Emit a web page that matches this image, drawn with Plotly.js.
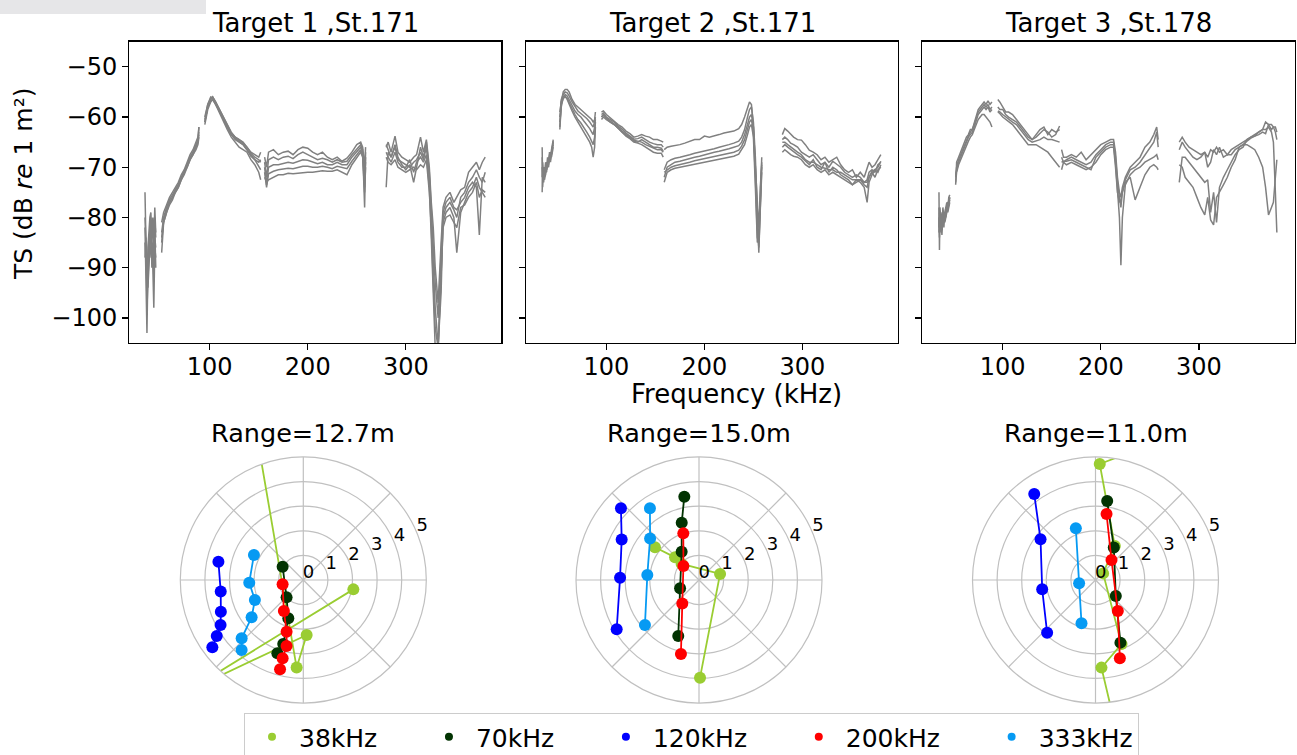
<!DOCTYPE html>
<html><head><meta charset="utf-8">
<script src="https://cdn.plot.ly/plotly-3.0.1.min.js"></script>
<style>html,body{margin:0;padding:0;background:#fff}#chart{width:1297px;height:755px}</style>
</head><body><div id="chart"></div>
<script>
// ---------- Top row: TS spectra (kHz, dB) ----------
const T1_F38 = [34,35,36,37,38,39,40,41,42,43,44,45];
const T1_S38 = [
 [-75,-88,-95,-86,-82,-80,-79,-84,-80,-85,-78,-83],
 [-82,-92,-103,-90,-86,-84,-83,-88,-85,-90,-82,-90],
 [-85,-90,-92,-94,-88,-86,-82,-86,-90,-98,-86,-88],
 [-80,-86,-90,-88,-84,-88,-86,-82,-84,-92,-80,-84],
 [-88,-84,-98,-92,-90,-82,-80,-90,-86,-88,-84,-86]];
const T1_F70 = [51,53,56,59,62,65,68,71,74,77,80,83,86,88,89];
const T1_S70 = [
 [-87,-81,-79,-77,-76,-75,-74,-72.5,-71.5,-70,-68.5,-67.5,-66,-65,-62],
 [-83,-80,-78,-76.5,-75.5,-74.5,-73.5,-72,-71,-69.5,-68,-67,-65.5,-64.5,-63],
 [-81,-79,-77.5,-76,-75,-74,-73,-71.5,-70.5,-69,-67.5,-66.5,-65,-64,-62],
 [-85,-80.5,-78.5,-77,-76,-74.5,-73.5,-72,-70.8,-69.5,-68.2,-67,-65.8,-65,-63.5],
 [-84,-81,-79,-77.5,-76.5,-75,-74,-72.5,-71,-70,-68.5,-67.5,-66.5,-65.5,-64]];
const T1_F120 = [95,98,101,103,106,110,114,118,122,126,130,134,138,142,146,150,152];
const T1_S120 = [
 [-61,-58,-56.5,-56,-57,-58.5,-60,-61.5,-63,-64,-64.5,-65,-66,-67,-67.5,-68,-67],
 [-60.5,-57.5,-56,-56.2,-57.2,-59,-60.5,-62,-63.5,-64.5,-65,-65.5,-66.5,-67.5,-68.5,-69,-68.5],
 [-61.5,-58.5,-57,-56.5,-57.5,-59.2,-61,-62.5,-64,-65,-66,-66.5,-67,-68.5,-69.5,-71,-72.5],
 [-61,-58,-56.8,-56.5,-57.5,-58.8,-60.5,-62,-63.5,-64.2,-64.8,-65.5,-66.5,-67.8,-68.5,-70,-70.5],
 [-60,-57.5,-56.3,-56,-57,-58.5,-60.2,-61.8,-63.2,-64,-64.5,-65.2,-66,-67.2,-68,-68.5,-69]];
const T1_F200 = [156,158,160,165,170,175,180,185,190,195,200,205,210,215,220,225,230,235,240,245,250,254,256,258,259];
const T1_S200 = [
 [-68,-70,-67,-66.5,-67.5,-67,-66.8,-67.5,-66.5,-66,-66.2,-67,-67.5,-67,-68,-68.5,-68,-68.8,-68.2,-67,-65.5,-65,-66,-70,-66],
 [-69,-72,-68.5,-68,-68.5,-68,-67.8,-68.3,-67.5,-67,-67.5,-68,-68.5,-68.2,-68.5,-69,-68.5,-69,-68.8,-67.5,-66.5,-65.5,-66.5,-78,-68],
 [-70,-73.5,-70,-69.5,-69.5,-69.2,-69,-69.2,-68.8,-68.5,-68.6,-69,-69.3,-69,-69.5,-69.5,-69,-69.5,-69.5,-68,-67,-66,-67,-74,-67],
 [-71,-74,-71.3,-70.8,-70.5,-70.3,-70.2,-70.3,-70,-69.8,-69.8,-70,-70,-69.8,-70,-70.3,-69.8,-70,-70.3,-68.8,-67.5,-66.5,-67.5,-72,-69],
 [-72,-73,-72.5,-72,-71.5,-71.5,-71.2,-71.3,-71.2,-71,-71,-71,-70.8,-70.7,-70.8,-70.8,-70.5,-71,-71.5,-69.5,-68,-67,-68,-75,-70]];
const T1_F333 = [280,282,285,289,292,296,300,304,308,311,315,318,321,324,326,328,330,333,336,338,341,345,349,352,356,360,364,368,372,375,378,381];
const T1_S333 = [
 [-66,-65,-67,-63.8,-67,-68,-68.5,-69,-68,-67.5,-64,-67,-64.5,-70,-77,-82,-90,-97,-85,-78,-76,-75,-77,-76,-74.5,-74,-71,-70,-69,-70.5,-69,-68],
 [-74,-67,-68,-66,-68.5,-69,-69.5,-70,-69,-68.5,-67,-68.5,-66,-72,-80,-88,-98,-105.5,-95,-80,-78,-77,-78.5,-80,-76,-75,-73,-72,-70.5,-72,-73,-71],
 [-67,-68,-69,-67,-69,-70,-70,-68.5,-71,-69,-68,-69,-67.5,-74,-84,-96,-106,-106,-90,-81,-79,-78,-80,-87,-79,-77,-75,-74,-72,-74,-75,-76],
 [-65.5,-66.5,-68,-65.5,-68,-69.5,-70.5,-69.5,-73,-70,-66,-68,-65,-71,-78,-85,-93,-100,-88,-79,-77,-76,-78,-78.5,-77,-76,-74,-73,-74,-83.5,-72,-73],
 [-68,-69,-69.5,-68.5,-70,-70.5,-71,-70.5,-70,-70.5,-69.5,-70,-68.5,-75,-82,-93,-102,-106,-92,-82,-80,-79.5,-81,-82,-78,-77.5,-76,-75,-73,-76,-74.5,-75]];

const T2_F38 = [34.5,35,36,37,38,39,40,41,42,43,44,45,45.8];
const T2_S38 = [
 [-66,-74,-70,-71,-69,-70,-68,-69,-67,-68,-66.5,-65,-64.5],
 [-75,-70,-71.5,-72.5,-70.5,-71,-69,-70,-68,-69,-67,-66,-65.5],
 [-72,-69,-72,-70,-71,-69.5,-70,-68.5,-68,-67,-67.5,-66,-65],
 [-70,-71,-73,-71,-70,-70.5,-69.5,-69,-68.5,-67.5,-68,-66.5,-66],
 [-68,-72,-71,-72,-71.5,-70,-69,-69.5,-67.5,-68.5,-67,-65.5,-64.8]];
const T2_F70 = [52.5,54,56,58,60,62,65,68,71,74,77,80,83,85,86.5,88,88.8];
const T2_S70 = [
 [-62,-57,-55,-54.5,-54.5,-55,-56.5,-57.5,-58,-58.5,-59,-59.5,-60,-60.5,-61,-60.5,-59],
 [-60,-56.5,-55.5,-55,-55.2,-55.8,-57,-58,-58.8,-59.3,-59.8,-60.3,-61,-61.5,-62,-61,-60],
 [-61,-58,-56,-55.5,-55.8,-56.5,-57.8,-58.8,-59.5,-60,-60.8,-61.5,-62.3,-63,-63.5,-62,-60.5],
 [-62.5,-57.5,-56.3,-56,-56.3,-57,-58.3,-59.5,-60.5,-61.2,-62,-63,-64,-64.8,-65.5,-64,-61],
 [-59,-57,-56,-55.8,-56.5,-57.5,-58.8,-60,-61,-62,-63,-64,-65,-66,-68,-66,-62]];
const T2_F120 = [95,97,100,104,108,112,116,120,124,128,132,136,140,144,148,152,156,158];
const T2_S120 = [
 [-59,-58.8,-59.5,-60.2,-60.8,-61.5,-62,-62.8,-63.3,-64,-63.8,-63.5,-63.8,-64,-64.5,-64.5,-64.8,-65],
 [-59.5,-59.2,-60,-60.5,-61,-61.8,-62.4,-63.2,-63.8,-64.4,-64.3,-64,-64.5,-65,-65.3,-65.5,-65.5,-66],
 [-60,-59.6,-60.2,-60.8,-61.3,-62,-62.8,-63.5,-64,-64.6,-64.8,-65,-65.5,-65.8,-66.2,-66.5,-66.5,-67],
 [-60.5,-60,-60.5,-61,-61.5,-62.2,-63,-63.8,-64.3,-65,-65.2,-65.5,-66,-66.5,-67,-67.2,-67.2,-68],
 [-60,-59.5,-60.3,-61,-61.5,-62.3,-63,-63.6,-64.2,-64.8,-65,-64.5,-65,-65.5,-66,-66,-66.2,-66.8]];
const T2_F200 = [159,162,166,170,175,180,185,190,195,200,205,210,215,220,225,230,235,238,241,244,246,248,250,252,254,255.5,257,258.5];
const T2_S200 = [
 [-66.5,-66,-65.8,-65.7,-65.5,-65.2,-64.8,-64.5,-64.5,-63.8,-64,-63.8,-63.5,-63.2,-63,-62.8,-62.3,-61.5,-60,-58,-57,-57.5,-62,-70,-78,-82,-76,-68],
 [-70.5,-69,-68.5,-68.2,-68,-67.8,-67.5,-67.2,-67,-66.7,-66.5,-66.3,-66,-65.8,-65.5,-65.2,-64.8,-64,-62.5,-60,-58.5,-58,-61,-68,-80,-87,-78,-70],
 [-72,-70,-69.5,-69,-68.8,-68.5,-68.3,-68,-67.8,-67.5,-67.3,-67,-66.8,-66.6,-66.3,-66,-65.7,-65,-63.5,-61.5,-60,-59.5,-62,-70,-82,-86,-77,-71],
 [-71,-70.5,-70,-69.7,-69.5,-69.2,-69,-68.7,-68.5,-68.2,-68,-67.8,-67.6,-67.4,-67.2,-67,-66.6,-65.8,-64.5,-62.5,-61,-60.5,-63,-72,-84,-85,-75,-69],
 [-73,-71,-70.5,-70.2,-70,-69.8,-69.5,-69.3,-69.2,-69,-68.8,-68.6,-68.4,-68.2,-68,-67.8,-67.4,-66.5,-65.5,-63.5,-62,-61.5,-64,-74,-85,-84,-74,-69.5]];
const T2_F333 = [279.5,282,285,288,291,295,299,303,307,311,315,319,323,327,331,335,339,343,347,351,355,359,363,366,368,371,374,377,380];
const T2_S333 = [
 [-63.5,-62.3,-62.8,-63.5,-64,-64.5,-64.6,-65.5,-66.6,-67,-67.5,-68.5,-68,-69,-68.5,-68,-69.5,-70.5,-71,-70.5,-72,-71,-72,-70,-69,-70,-69.5,-68.5,-67.5],
 [-64.5,-64,-64.5,-65.2,-65.5,-66,-67,-67.5,-68,-67.5,-68.5,-69.5,-69,-70,-68.8,-69.5,-70,-71,-71.5,-72,-71.5,-72,-73,-72.5,-71,-70.5,-71,-69.5,-69],
 [-66,-65.5,-66,-66.5,-67,-67.5,-68,-68.8,-69.5,-68.5,-70,-70.5,-69,-71,-70,-70.5,-71.5,-72,-72.5,-73.5,-73,-72.5,-73.5,-74,-72,-71,-72,-70.5,-70],
 [-67,-66.5,-67,-67.5,-67.8,-68,-68.5,-69.5,-70,-69.5,-70.5,-71,-70.5,-71.5,-71,-71.5,-72,-72.5,-73,-73.5,-72.5,-73,-74,-77,-73,-71.5,-70.5,-71,-69.5],
 [-65,-65,-65.5,-66,-66.5,-67,-67.5,-68.5,-69,-69,-69.5,-70,-70.2,-70.5,-70.5,-71,-71,-71.5,-72,-72.5,-72.5,-72.5,-73,-73,-72,-70.8,-70.5,-70,-68.8]];

const T3_F38 = [35,35.5,36,37,38,39,40,41,42,43,44,45,46];
const T3_S38 = [
 [-75,-86.5,-79,-80,-82,-78,-80,-78.5,-78,-77,-78,-76,-75.5],
 [-80,-84,-78,-82,-83.5,-80,-81,-79.5,-79,-78,-78.5,-77.5,-76.5],
 [-78,-82,-80.5,-79,-81,-81.5,-79,-80,-78,-78.5,-77,-77,-76],
 [-83,-80,-81,-81.5,-80,-79,-82,-79,-80,-77.5,-79,-78,-77],
 [-82,-79,-79.5,-83,-82,-80.5,-80,-81,-79.5,-79,-78,-77.5,-76]];
const T3_F70 = [52,53,55,57,59,61,63,65,67,69,71,73,75,77,79,81,83,85,87,89];
const T3_S70 = [
 [-73.5,-69,-68,-67,-66,-65,-64,-63.5,-62.5,-62.5,-61,-59.5,-58.5,-58,-57.5,-57,-57.5,-56.8,-57.5,-57],
 [-72,-70,-68.5,-67.5,-66.5,-65.5,-64.5,-63.8,-63,-62.5,-61.5,-60,-59,-58.5,-58,-57.5,-58,-57.5,-58.5,-58],
 [-71.5,-70.5,-69,-68,-67,-66,-65,-64,-63.5,-63,-62,-60.5,-59.5,-59,-58.5,-58,-58.5,-58,-59,-58.5],
 [-73,-71,-69.5,-68.5,-67.5,-66.5,-65.5,-64.8,-64,-63.5,-62.5,-61.5,-60.5,-60,-59.5,-59.5,-60,-60.5,-61,-62]];
const T3_F120 = [95,97,100,103,106,110,114,118,122,126,130,134,138,142,146,150,154,158];
const T3_S120 = [
 [-56.5,-57,-58,-59,-59,-59.5,-60.5,-61.5,-62.5,-63.5,-64.5,-64,-63.3,-62.5,-63,-64,-63.5,-61.8],
 [-58,-58.5,-58.5,-59.5,-60,-60.5,-61,-62,-63,-64,-64.5,-63.5,-62.5,-62,-63.5,-62.5,-63,-62.5],
 [-58.8,-59,-59.5,-60,-60.5,-61,-61.5,-62.5,-63.5,-64.5,-65,-64.8,-64.5,-64,-64.5,-64.5,-64.8,-65],
 [-59,-59.3,-60,-60.5,-61,-61.5,-62.5,-63.5,-64.5,-65.5,-65.5,-65.5,-66,-66.5,-67,-68,-69,-70]];
const T3_F200 = [160,162,165,170,175,180,185,190,195,200,205,210,213,215,217,219,220.5,222,225,230,235,240,245,250,254,257,258.5];
const T3_S200 = [
 [-66.5,-68,-68,-67.5,-68,-67,-68.5,-67.5,-66.5,-65.5,-65,-64.5,-64.5,-67,-72,-75,-76,-74,-72,-70,-69,-68,-66,-65,-63.5,-62,-64.5],
 [-70.5,-69,-68.5,-68,-68.5,-69,-69.5,-69,-67.5,-66.5,-65.5,-65,-65,-68,-73,-76,-78,-75,-72.5,-70.5,-70,-69,-67.5,-66,-65,-63,-66],
 [-69,-68.8,-68.8,-68.5,-69,-69.5,-70,-70.5,-68,-67,-66,-65.5,-65.5,-69,-74,-80,-89.5,-80,-73.5,-71.5,-70.5,-70,-69,-68.5,-68,-67.5,-68.5],
 [-68,-69,-69.5,-69,-69.5,-70,-70.5,-70,-69,-67.5,-66.5,-66,-66,-70,-75,-77,-76.5,-75,-73,-72,-76.5,-74,-71.5,-70,-69.5,-70,-70.5]];
const T3_F333 = [280,283,286,290,294,298,302,306,309,312,315,318,321,325,329,333,337,341,345,349,353,357,361,365,368,371,374,376,378,379.5];
const T3_S333 = [
 [-65,-64,-65,-66,-66.5,-67,-67.5,-67,-68,-66.5,-67,-66,-67,-66.5,-67.5,-66.5,-66,-65.5,-65,-64.5,-64,-63.8,-63.5,-63,-63.3,-61.5,-61.5,-62,-63,-64.5],
 [-66.5,-65,-66,-67,-68,-68.5,-68,-67,-70,-69,-66.5,-67.5,-66,-68,-67.5,-67.5,-66.5,-66,-65.5,-64.8,-64.2,-63.8,-63,-62.5,-61,-61.5,-62.5,-62,-62,-63],
 [-69.5,-70,-72,-73,-74,-76,-78,-79.5,-76,-80.5,-81.5,-76,-75,-73.5,-72,-70,-68.5,-66,-65.5,-65.5,-66,-66.5,-68,-70,-74,-79.5,-78,-77,-72,-68.5],
 [-73,-68,-68,-69,-70,-71,-72,-73,-72.5,-79,-75,-81,-74,-72,-70.5,-69,-67.5,-66.5,-66,-64.5,-64,-63.5,-63,-62.5,-62.5,-62,-63,-65,-75,-83]];

// ---------- Bottom row: polar (r, theta in degrees) ----------
const FREQ_NAMES = ['38kHz','70kHz','120kHz','200kHz','333kHz'];
const FREQ_COLORS = ['#9acd32','#023302','#0000ff','#ff0000','#069af3'];
const RANGE_TITLES = ['Range=12.7m','Range=15.0m','Range=11.0m'];
const PANEL_TITLES = ['Target 1 ,St.171','Target 2 ,St.171','Target 3 ,St.178'];
const R_TICKS = [0,1,2,3,4,5];

const P1_R = [[6.07,3.57,2.24,5.86,5.79,2.07],[1.00,0.98,1.67,2.73,3.16],[3.53,3.39,3.59,3.83,4.19,4.60],[0.86,1.49,2.21,2.77,3.29,3.75],[2.25,2.20,2.13,2.59,3.45,3.79]];
const P1_T = [[107.95,265.65,273.5,226.0,225.4,349.4],[147.2,226.1,248.6,252.6,250.5],[167.8,188.0,201.0,208.6,212.9,216.5],[191.8,238.0,252.1,255.8,255.2,255.4],[153.1,182.8,202.5,215.8,223.4,228.6]];
const P2_R = [[2.23,1.34,0.96,0.89,3.97],[3.44,2.43,1.35,0.84,2.43],[4.31,3.55,3.21,3.90],[2.00,0.85,1.17,3.10],[3.53,2.61,2.11,2.86]];
const P2_T = [[143.4,136.6,137.3,15.9,270.6],[100.0,106.8,121.5,203.7,249.7],[137.4,152.3,178.3,210.9],[108.6,138.2,234.5,256.3],[124.4,139.6,174.5,219.8]];
const P3_R = [[5.54,4.72,1.59,0.41,2.81,3.57,5.32],[3.25,1.52,1.05,2.74],[4.29,2.78,2.20,2.91],[2.72,1.04,1.55,3.33],[2.25,0.68,1.85]];
const P3_T = [[72.5,87.9,60.4,41.0,292.1,273.9,277.0],[81.6,60.7,321.8,291.7],[125.5,143.5,189.9,227.5],[80.5,51.3,305.8,287.3],[110.8,191.5,252.1]];

// ---------- Build ----------
const W = 1297, H = 755;
const px = v => v / W, py = v => 1 - v / H;
const traces = [];
const GRAY = '#808080';
function addBand(f, S, k) {
  S.forEach(s => traces.push({type:'scatter', mode:'lines', x:f, y:s,
    xaxis:'x'+(k===1?'':k), yaxis:'y'+(k===1?'':k),
    line:{color:GRAY, width:1.5}, showlegend:false, hoverinfo:'skip'}));
}
[[T1_F38,T1_S38],[T1_F70,T1_S70],[T1_F120,T1_S120],[T1_F200,T1_S200],[T1_F333,T1_S333]].forEach(b=>addBand(b[0],b[1],1));
[[T2_F38,T2_S38],[T2_F70,T2_S70],[T2_F120,T2_S120],[T2_F200,T2_S200],[T2_F333,T2_S333]].forEach(b=>addBand(b[0],b[1],2));
[[T3_F38,T3_S38],[T3_F70,T3_S70],[T3_F120,T3_S120],[T3_F200,T3_S200],[T3_F333,T3_S333]].forEach(b=>addBand(b[0],b[1],3));

[[P1_R,P1_T,'polar'],[P2_R,P2_T,'polar2'],[P3_R,P3_T,'polar3']].forEach(p => {
  FREQ_NAMES.forEach((n,i) => traces.push({type:'scatterpolar', r:p[0][i], theta:p[1][i], subplot:p[2],
    mode:'lines+markers', line:{color:FREQ_COLORS[i], width:1.8},
    marker:{color:FREQ_COLORS[i], size:12}, showlegend:false, hoverinfo:'skip', cliponaxis:true}));
});
// empty traces that carry the radial tick-label overlays
['polar4','polar5','polar6'].forEach(sp => traces.push({type:'scatterpolar', r:[], theta:[], subplot:sp,
  mode:'markers', showlegend:false, hoverinfo:'skip'}));
// legend entries (marker only)
const PAD = '\u00a0\u00a0\u00a0\u00a0\u00a0';
FREQ_NAMES.forEach((n,i) => traces.push({type:'scatter', x:[null], y:[null], mode:'markers',
  marker:{color:FREQ_COLORS[i], size:8}, name: i < FREQ_NAMES.length-1 ? n+PAD : n, showlegend:true}));

const XD = [[129.3,501.4],[526,898],[922.3,1294.5]];
const axFont = {family:'DejaVu Sans', size:24, color:'#000'};
const layout = {
  width:W, height:H, margin:{l:0,r:0,t:0,b:0,autoexpand:false}, paper_bgcolor:'#fff', plot_bgcolor:'#fff',
  font:{family:'DejaVu Sans', color:'#000', size:24},
  showlegend:true,
  legend:{orientation:'h', x:px(244), xanchor:'left', y:py(713), yanchor:'top',
    bordercolor:'#cccccc', borderwidth:1, bgcolor:'rgba(255,255,255,0.9)',
    itemwidth:44,
    font:{family:'DejaVu Sans', size:25, color:'#000'}, traceorder:'normal'},
  annotations:[], shapes:[
    {type:'rect', xref:'paper', yref:'paper', x0:0, x1:px(206), y0:py(14), y1:1, fillcolor:'#e6e6e8', line:{width:0}, layer:'below'}
  ]
};
for (let k=1;k<=3;k++){
  const s = k===1?'':k;
  layout['xaxis'+s] = {domain:[px(XD[k-1][0]), px(XD[k-1][1])], anchor:'y'+s, range:[18,397.5],
    tickvals:[100,200,300], ticks:'outside', ticklen:6, tickwidth:1.3, tickcolor:'#000', ticklabelstandoff:-4,
    showline:true, mirror:true, linecolor:'#000', linewidth:1.3, showgrid:false, zeroline:false, tickfont:axFont};
  layout['yaxis'+s] = {domain:[py(343), py(41.7)], anchor:'x'+s, range:[-105,-45],
    tickvals:[-50,-60,-70,-80,-90,-100], ticks:'outside', ticklen:6, tickwidth:1.3, tickcolor:'#000',
    showline:true, mirror:true, linecolor:'#000', linewidth:1.3, showgrid:false, zeroline:false,
    showticklabels:k===1, tickfont:axFont};
  layout.annotations.push({text:PANEL_TITLES[k-1], xref:'paper', yref:'paper',
    x:px((XD[k-1][0]+XD[k-1][1])/2), y:py(23.2), xanchor:'center', yanchor:'middle', showarrow:false,
    font:{family:'DejaVu Sans', size:26, color:'#000'}});
}
const PC = [303.3, 699, 1095.5], PR = 123, PCY = 580;
const LBL_DX = 16, LBL_DY = 1.5;   // matplotlib places r-labels slightly off the 22.5 deg spoke
for (let k=1;k<=3;k++){
  const s = k===1?'':k;
  layout['polar'+s] = {domain:{x:[px(PC[k-1]-PR), px(PC[k-1]+PR)], y:[py(PCY+PR), py(PCY-PR)]},
    bgcolor:'#fff',
    radialaxis:{range:[0,5], tickvals:R_TICKS, angle:22.5, showline:false, ticks:'', showticklabels:false,
      gridcolor:'#c0c0c0', gridwidth:1.2},
    angularaxis:{dtick:45, showticklabels:false, ticks:'', gridcolor:'#c0c0c0', gridwidth:1.2,
      showline:true, linecolor:'#c0c0c0', linewidth:1.2}};
  // label-only overlay
  layout['polar'+(k+3)] = {domain:{x:[px(PC[k-1]-PR+LBL_DX), px(PC[k-1]+PR+LBL_DX)], y:[py(PCY+PR+LBL_DY), py(PCY-PR+LBL_DY)]},
    bgcolor:'rgba(0,0,0,0)',
    radialaxis:{range:[0,5], tickvals:R_TICKS, angle:22.5, tickangle:22.5, side:'counterclockwise',
      showline:false, showgrid:false, ticks:'', tickfont:{family:'DejaVu Sans', size:18, color:'#000'}},
    angularaxis:{visible:false, showgrid:false, showline:false, showticklabels:false, ticks:''}};
  layout.annotations.push({text:RANGE_TITLES[k-1], xref:'paper', yref:'paper',
    x:px(PC[k-1]), y:py(432.5), xanchor:'center', yanchor:'middle', showarrow:false,
    font:{family:'DejaVu Sans', size:25.5, color:'#000'}});
}
layout.annotations.push({text:'TS (dB <i>re</i> 1 m²)', xref:'paper', yref:'paper', x:px(24), y:py(184),
  textangle:-90, showarrow:false, xanchor:'center', yanchor:'middle', font:{family:'DejaVu Sans', size:25, color:'#000'}});
layout.annotations.push({text:'Frequency (kHz)', xref:'paper', yref:'paper', x:px(736.5), y:py(394),
  showarrow:false, xanchor:'center', yanchor:'middle', font:{family:'DejaVu Sans', size:26, color:'#000'}});

Plotly.newPlot('chart', traces, layout, {staticPlot:true});
</script></body></html>
